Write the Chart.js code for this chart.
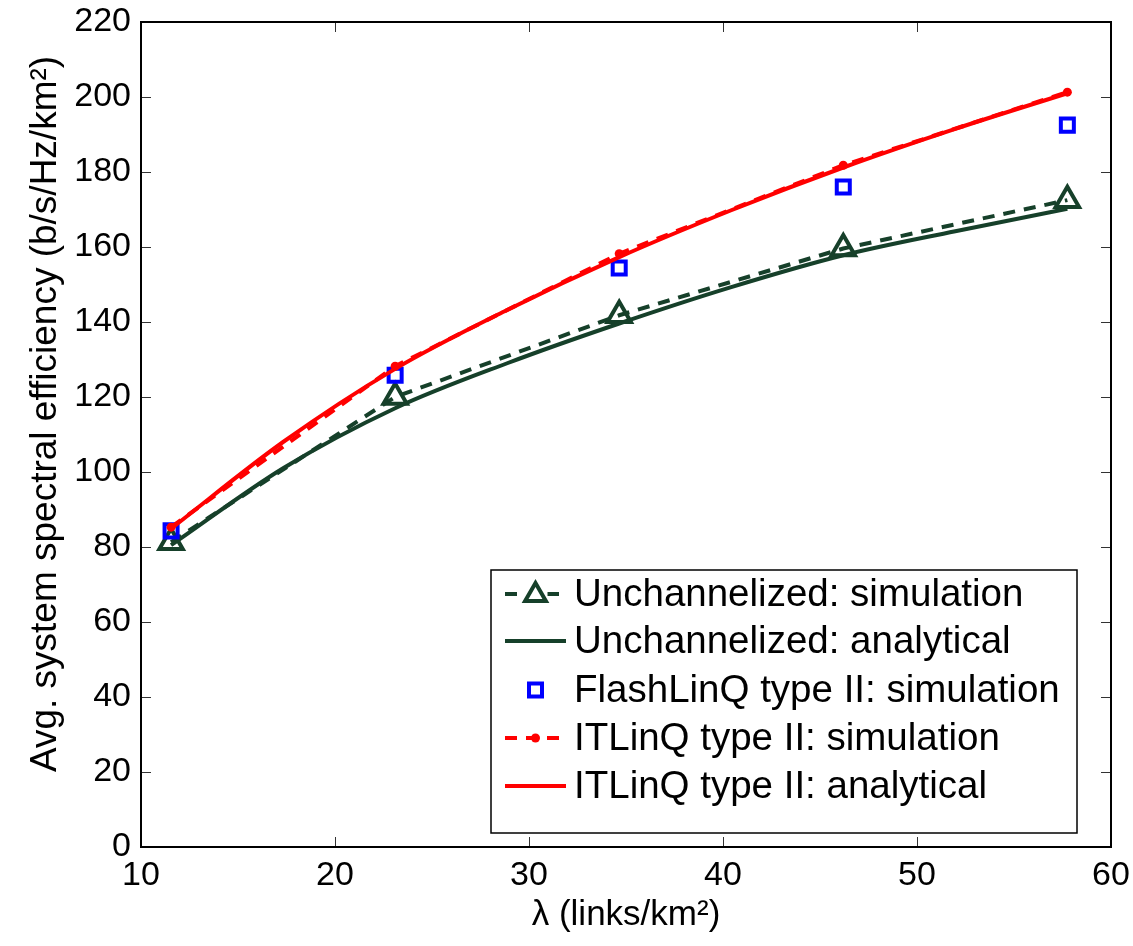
<!DOCTYPE html>
<html><head><meta charset="utf-8">
<script src="https://cdn.jsdelivr.net/npm/chart.js@4.4.0/dist/chart.umd.min.js"></script>
<style>html,body{margin:0;padding:0;background:#fff;}#wrap{width:1133px;height:946px;}</style>
</head><body><div id="wrap"><canvas id="c" width="1133" height="946"></canvas></div>
<script>
// ---- data ----
const lambdaSim = [11.55, 23.1, 34.65, 46.2, 57.75];
const lambdaAna = [11.55, 17.325, 23.1, 28.875, 34.65, 40.425, 46.2, 51.975, 57.75];
const unchSim   = [81.3, 120.0, 141.8, 159.6, 172.5];
const unchAna   = [80.5, 101.0, 117.0, 129.0, 139.6, 149.3, 157.8, 164.2, 170.2];
const flashSim  = [84.3, 125.8, 154.4, 176.0, 192.5];
const itlSim    = [85.3, 128.2, 158.2, 181.8, 201.3];
const itlAna    = [84.9, 108.0, 127.5, 143.2, 157.3, 169.8, 181.2, 191.5, 201.0];
const xTicks    = [10, 20, 30, 40, 50, 60];
const yTicks    = [0, 20, 40, 60, 80, 100, 120, 140, 160, 180, 200, 220];
const seriesLabels = [
  'Unchannelized: simulation',
  'Unchannelized: analytical',
  'FlashLinQ type II: simulation',
  'ITLinQ type II: simulation',
  'ITLinQ type II: analytical'
];
const xTitle = 'λ (links/km²)';
const yTitle = 'Avg. system spectral efficiency (b/s/Hz/km²)';

const GREEN = '#16402A', BLUE = '#0000FF', RED = '#FF0000';
const FONT = '"Liberation Sans", Arial, Helvetica, sans-serif';
const pts = (xs, ys) => xs.map((x, i) => ({x, y: ys[i]}));

// frame + inward ticks (MATLAB style box) + y title
const framePlugin = {
  id: 'frame',
  afterDatasetsDraw(chart) {
    const {ctx, chartArea: a, scales: {x, y}} = chart;
    ctx.save();
    ctx.strokeStyle = '#333';
    ctx.lineWidth = 1;
    const L = 10;
    xTicks.forEach(v => {
      const px = Math.round(x.getPixelForValue(v)) + 0.5;
      ctx.beginPath();
      ctx.moveTo(px, a.bottom); ctx.lineTo(px, a.bottom - L);
      ctx.moveTo(px, a.top); ctx.lineTo(px, a.top + L);
      ctx.stroke();
    });
    yTicks.forEach(v => {
      const py = Math.round(y.getPixelForValue(v)) + 0.5;
      ctx.beginPath();
      ctx.moveTo(a.left, py); ctx.lineTo(a.left + L, py);
      ctx.moveTo(a.right, py); ctx.lineTo(a.right - L, py);
      ctx.stroke();
    });
    ctx.strokeStyle = '#000';
    ctx.lineWidth = 2;
    ctx.strokeRect(a.left, a.top, a.right - a.left, a.bottom - a.top);
    // y axis title
    ctx.translate(46, 414);
    ctx.rotate(-Math.PI / 2);
    ctx.font = '37px ' + FONT;
    ctx.fillStyle = '#000';
    ctx.textAlign = 'center';
    ctx.textBaseline = 'middle';
    ctx.fillText(yTitle, 0, 0);
    ctx.restore();
  }
};

// legend drawn inside plot area
function drawTri(ctx, cx, cy, r) {
  ctx.beginPath();
  for (let k = 0; k < 3; k++) {
    const ang = -Math.PI / 2 + k * 2 * Math.PI / 3;
    const px = cx + r * Math.cos(ang), py = cy + r * Math.sin(ang);
    k ? ctx.lineTo(px, py) : ctx.moveTo(px, py);
  }
  ctx.closePath(); ctx.stroke();
}
const legendPlugin = {
  id: 'boxLegend',
  afterDraw(chart) {
    const {ctx} = chart;
    const bx = 491, by = 570, bw = 586, bh = 263;
    ctx.save();
    ctx.fillStyle = '#fff';
    ctx.fillRect(bx, by, bw, bh);
    ctx.strokeStyle = '#000'; ctx.lineWidth = 1.5;
    ctx.strokeRect(bx, by, bw, bh);
    const x0 = 505, x1 = 566, xm = (x0 + x1) / 2, tx = 574;
    const rows = [594, 641, 690, 738, 786];
    ctx.font = '38.5px ' + FONT;
    ctx.textBaseline = 'middle';
    ctx.textAlign = 'left';
    rows.forEach((ry, i) => {
      const ds = chart.data.datasets[i];
      ctx.save();
      if (ds.showLine !== false) {
        ctx.strokeStyle = ds.borderColor; ctx.lineWidth = ds.borderWidth;
        ctx.setLineDash(ds.borderDash || []);
        ctx.beginPath(); ctx.moveTo(x0, ry); ctx.lineTo(x1, ry); ctx.stroke();
        ctx.setLineDash([]);
      }
      if (i === 0) {
        ctx.fillStyle = '#fff'; ctx.strokeStyle = GREEN; ctx.lineWidth = 4;
        ctx.fillRect(xm - 12, ry - 12, 24, 22);
        drawTri(ctx, xm, ry + 1, 12);
      } else if (i === 2) {
        ctx.strokeStyle = BLUE; ctx.lineWidth = 4;
        ctx.strokeRect(xm - 6.5, ry - 6.5, 13, 13);
      } else if (i === 3) {
        ctx.fillStyle = RED; ctx.beginPath(); ctx.arc(xm, ry, 4.5, 0, Math.PI * 2); ctx.fill();
      }
      ctx.restore();
      ctx.fillStyle = '#000';
      ctx.fillText(ds.label, tx, ry + 1);
    });
    ctx.restore();
  }
};

new Chart(document.getElementById('c'), {
  type: 'line',
  data: {
    datasets: [
      { label: seriesLabels[0], data: pts(lambdaSim, unchSim), borderColor: GREEN, borderWidth: 4,
        borderDash: [12, 9], pointStyle: 'triangle', pointRadius: 13.5, pointBorderWidth: 4,
        pointBorderColor: GREEN, pointBackgroundColor: 'rgba(0,0,0,0)', order: 5 },
      { label: seriesLabels[1], data: pts(lambdaAna, unchAna), borderColor: GREEN, borderWidth: 4,
        pointRadius: 0, cubicInterpolationMode: 'monotone', order: 4 },
      { label: seriesLabels[2], data: pts(lambdaSim, flashSim), showLine: false, borderColor: BLUE,
        pointStyle: 'rect', pointRadius: 9.2, pointBorderWidth: 4, pointBorderColor: BLUE,
        pointBackgroundColor: 'rgba(0,0,0,0)', order: 3 },
      { label: seriesLabels[3], data: pts(lambdaSim, itlSim), borderColor: RED, borderWidth: 4,
        borderDash: [12, 9], pointStyle: 'circle', pointRadius: 4.5, pointBorderWidth: 0,
        pointBackgroundColor: RED, order: 2 },
      { label: seriesLabels[4], data: pts(lambdaAna, itlAna), borderColor: RED, borderWidth: 4,
        pointRadius: 0, cubicInterpolationMode: 'monotone', order: 1 }
    ]
  },
  options: {
    responsive: false,
    animation: false,
    devicePixelRatio: 1,
    layout: { padding: { top: 22, right: 22, left: 0, bottom: 0 } },
    plugins: { legend: { display: false }, tooltip: { enabled: false } },
    elements: { line: { fill: false, tension: 0 } },
    scales: {
      x: {
        type: 'linear', min: 10, max: 60,
        afterBuildTicks: s => { s.ticks = xTicks.map(v => ({value: v})); },
        afterFit: s => { s.height = 99; s.paddingLeft = 0; s.paddingRight = 0; },
        ticks: { font: { family: FONT, size: 34 }, color: '#000', padding: 8, maxRotation: 0 },
        grid: { display: false, drawTicks: false },
        border: { display: false },
        title: { display: true, text: xTitle, font: { family: FONT, size: 35 }, color: '#000',
                 padding: { top: 0, bottom: 10 } }
      },
      y: {
        type: 'linear', min: 0, max: 220,
        afterBuildTicks: s => { s.ticks = yTicks.map(v => ({value: v})); },
        afterFit: s => { s.width = 141; s.paddingTop = 0; s.paddingBottom = 0; },
        ticks: { font: { family: FONT, size: 34 }, color: '#000', padding: 10 },
        grid: { display: false, drawTicks: false },
        border: { display: false },
        title: { display: false }
      }
    }
  },
  plugins: [framePlugin, legendPlugin]
});
</script>
</body></html>
